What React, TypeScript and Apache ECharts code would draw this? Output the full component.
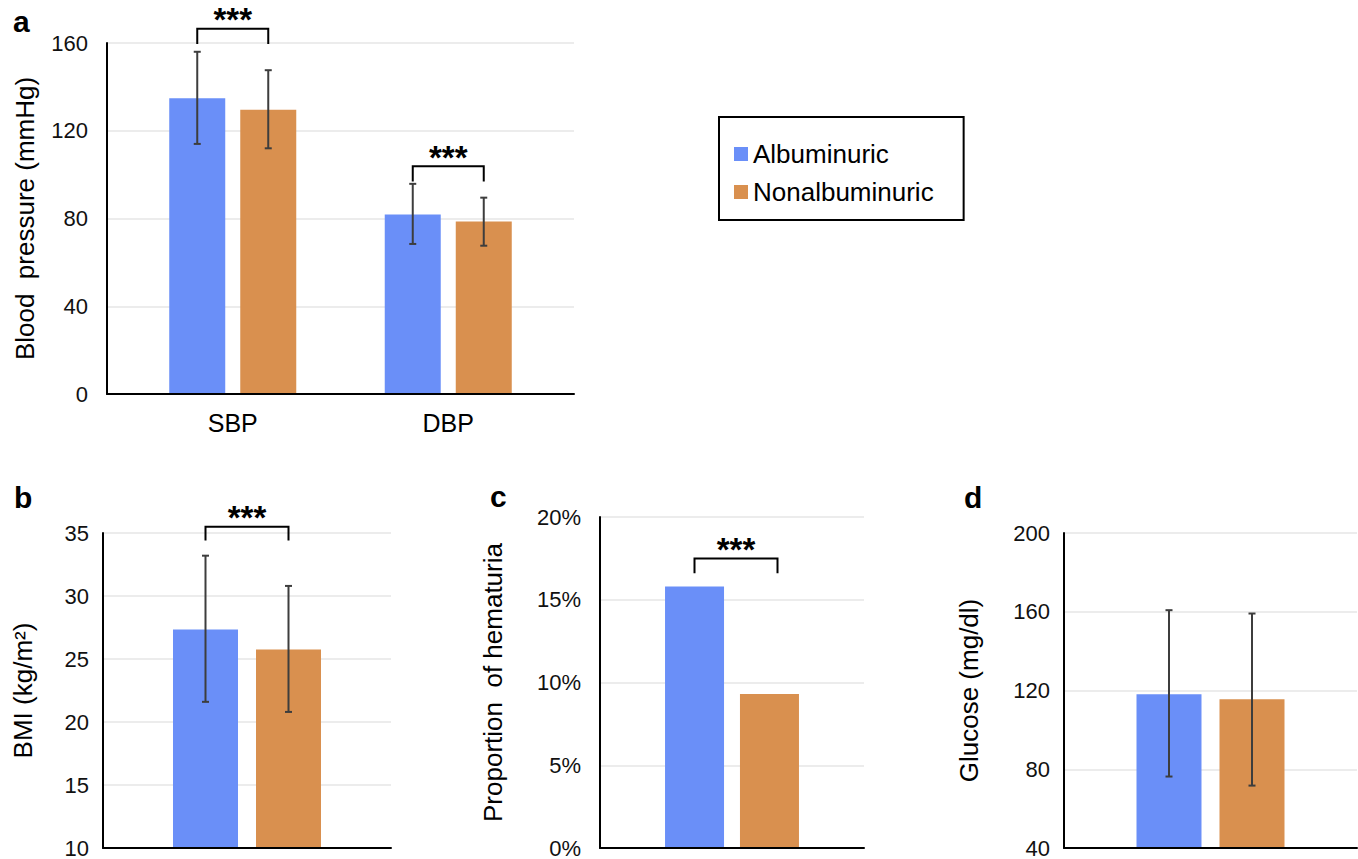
import React, { useEffect, useRef } from "react";
import * as echarts from "echarts";

// ---------- data ----------
const GROUPS = ["Albuminuric", "Nonalbuminuric"];

// panel a: blood pressure
const BP_CATEGORIES = ["SBP", "DBP"];
const BP_ALB = [134.8, 81.8];
const BP_NON = [129.6, 78.6];
const BP_ALB_ERR = [[114.0, 156.0], [68.4, 95.8]];
const BP_NON_ERR = [[112.0, 147.6], [67.6, 89.5]];
const BP_BRACKETS = [[0, 166.5, 159.6], [1, 103.8, 96.9]]; // [category, top, end]

// panel b: BMI
const BMI_ALB = [27.35];
const BMI_NON = [25.75];
const BMI_ALB_ERR = [[21.6, 33.2]];
const BMI_NON_ERR = [[20.8, 30.8]];
const BMI_BRACKETS = [[0, 35.5, 34.4]];

// panel c: hematuria (%)
const HEM_ALB = [15.8];
const HEM_NON = [9.3];
const HEM_BRACKETS = [[0, 17.5, 16.6]];

// panel d: glucose
const GLU_ALB = [118.1];
const GLU_NON = [115.5];
const GLU_ALB_ERR = [[76.3, 160.8]];
const GLU_NON_ERR = [[71.7, 159.1]];

// axis ranges
const BP_AXIS = { min: 0, max: 160, interval: 40 };
const BMI_AXIS = { min: 10, max: 35, interval: 5 };
const HEM_AXIS = { min: 0, max: 20, interval: 5 };
const GLU_AXIS = { min: 40, max: 200, interval: 40 };

// ---------- styles ----------
const BLUE = "#6A8FF8";
const ORANGE = "#D9904F";
const ERR = "#3d3d3d";
const GRID_LINE = "#e6e6e6";
const FONT = '"Liberation Sans", Arial, Helvetica, sans-serif';

function errorSeries(axis: number, data: number[][], offset: number) {
  return {
    type: "custom",
    xAxisIndex: axis,
    yAxisIndex: axis,
    clip: false,
    silent: true,
    z: 10,
    data: data.map((d, i) => [i, d[0], d[1]]),
    encode: { x: 0, y: [1, 2] },
    renderItem: (_p: any, api: any) => {
      const lo = api.coord([api.value(0), api.value(1)]);
      const hi = api.coord([api.value(0), api.value(2)]);
      const x = lo[0] + offset;
      const c = 3.5;
      const st = { stroke: ERR, lineWidth: 2 };
      return {
        type: "group",
        children: [
          { type: "line", shape: { x1: x, y1: hi[1], x2: x, y2: lo[1] }, style: st },
          { type: "line", shape: { x1: x - c, y1: hi[1], x2: x + c, y2: hi[1] }, style: st },
          { type: "line", shape: { x1: x - c, y1: lo[1], x2: x + c, y2: lo[1] }, style: st },
        ],
      };
    },
  };
}

function bracketSeries(axis: number, data: number[][], lo: number, ro: number) {
  return {
    type: "custom",
    xAxisIndex: axis,
    yAxisIndex: axis,
    clip: false,
    silent: true,
    z: 10,
    data,
    encode: { x: 0, y: [1, 2] },
    renderItem: (_p: any, api: any) => {
      const top = api.coord([api.value(0), api.value(1)]);
      const end = api.coord([api.value(0), api.value(2)]);
      const cx = top[0];
      return {
        type: "group",
        children: [
          {
            type: "polyline",
            shape: {
              points: [
                [cx - lo, end[1]],
                [cx - lo, top[1]],
                [cx + ro, top[1]],
                [cx + ro, end[1]],
              ],
            },
            style: { stroke: "#000", lineWidth: 2, fill: "none" },
          },
          {
            type: "text",
            style: {
              text: "***",
              x: cx + (ro - lo) / 2,
              y: top[1] - 9,
              align: "center",
              verticalAlign: "middle",
              fontSize: 33,
              fontWeight: "bold",
              fontFamily: FONT,
              fill: "#000",
            },
          },
        ],
      };
    },
  };
}

function valueAxis(grid: number, range: any, name: string, nameGap: number, margin: number, fmt?: string) {
  return {
    type: "value",
    gridIndex: grid,
    min: range.min,
    max: range.max,
    interval: range.interval,
    name,
    nameLocation: "middle",
    nameGap,
    nameRotate: 90,
    nameTextStyle: { fontSize: 26, color: "#000", fontFamily: FONT },
    axisLine: { show: true, lineStyle: { color: "#000", width: 2 } },
    axisTick: { show: false },
    axisLabel: { fontSize: 22, color: "#111", margin, fontFamily: FONT, formatter: fmt || "{value}" },
    splitLine: { show: true, lineStyle: { color: GRID_LINE, width: 1.5 } },
  };
}

function hiddenValueAxis(grid: number, range: any) {
  return {
    type: "value",
    gridIndex: grid,
    min: range.min,
    max: range.max,
    interval: range.interval,
    show: false,
    splitLine: { show: false },
  };
}

function baseXAxis(grid: number, cats: string[]) {
  return {
    type: "category",
    gridIndex: grid,
    data: cats,
    axisLine: { show: true, lineStyle: { color: "#000", width: 2 } },
    axisTick: { show: false },
    axisLabel: { show: false },
    z: 6,
  };
}

function bar(axis: number, name: string, color: string, data: number[], width: number, gap: string) {
  return {
    type: "bar",
    name,
    xAxisIndex: axis,
    yAxisIndex: axis,
    data,
    barWidth: width,
    barGap: gap,
    itemStyle: { color },
    silent: true,
  };
}

export default function App() {
  const ref = useRef<HTMLDivElement>(null);

  useEffect(() => {
    if (!ref.current) return;
    const chart = echarts.init(ref.current, null, { renderer: "svg" });

    const option: any = {
      animation: false,
      backgroundColor: "#fff",
      textStyle: { fontFamily: FONT },
      grid: [
        { left: 107, top: 43, width: 467, height: 351 }, // a axes
        { left: 125, top: 43, width: 431, height: 351 }, // a bars
        { left: 103, top: 533, width: 288, height: 316 }, // b
        { left: 600, top: 517, width: 264, height: 331 }, // c
        { left: 1064, top: 533, width: 293, height: 315 }, // d
      ],
      xAxis: [
        baseXAxis(0, BP_CATEGORIES),
        {
          type: "category",
          gridIndex: 1,
          data: BP_CATEGORIES,
          axisLine: { show: false },
          axisTick: { show: false },
          axisLabel: { fontSize: 25, color: "#000", margin: 16, fontFamily: FONT },
        },
        baseXAxis(2, [""]),
        baseXAxis(3, [""]),
        baseXAxis(4, [""]),
      ],
      yAxis: [
        valueAxis(0, BP_AXIS, "Blood  pressure (mmHg)", 69, 19),
        hiddenValueAxis(1, BP_AXIS),
        valueAxis(2, BMI_AXIS, "BMI (kg/m²)", 67, 14),
        valueAxis(3, HEM_AXIS, "Proportion  of hematuria", 94, 19, "{value}%"),
        valueAxis(4, GLU_AXIS, "Glucose (mg/dl)", 82, 14),
      ],
      legend: {
        data: GROUPS.map((g) => ({ name: g, icon: "rect" })),
        orient: "vertical",
        left: 719,
        top: 117,
        selectedMode: false,
        borderColor: "#000",
        borderWidth: 2,
        padding: [24, 30, 15, 15],
        itemWidth: 14,
        itemHeight: 14,
        itemGap: 12,
        textStyle: { fontSize: 26, color: "#000", fontFamily: FONT, lineHeight: 26 },
      },
      graphic: [
        { type: "text", left: 13, top: 6, style: { text: "a", fontSize: 30, fontWeight: "bold", fill: "#000", fontFamily: FONT } },
        { type: "text", left: 14, top: 482, style: { text: "b", fontSize: 30, fontWeight: "bold", fill: "#000", fontFamily: FONT } },
        { type: "text", left: 490, top: 481, style: { text: "c", fontSize: 30, fontWeight: "bold", fill: "#000", fontFamily: FONT } },
        { type: "text", left: 964, top: 482, style: { text: "d", fontSize: 30, fontWeight: "bold", fill: "#000", fontFamily: FONT } },
      ],
      series: [
        // a
        bar(1, GROUPS[0], BLUE, BP_ALB, 56, "26.8%"),
        bar(1, GROUPS[1], ORANGE, BP_NON, 56, "26.8%"),
        errorSeries(1, BP_ALB_ERR, -35.5),
        errorSeries(1, BP_NON_ERR, 35.5),
        bracketSeries(1, BP_BRACKETS, 35.5, 35.5),
        // b
        bar(2, GROUPS[0], BLUE, BMI_ALB, 65, "27.7%"),
        bar(2, GROUPS[1], ORANGE, BMI_NON, 65, "27.7%"),
        errorSeries(2, BMI_ALB_ERR, -41.5),
        errorSeries(2, BMI_NON_ERR, 41.5),
        bracketSeries(2, BMI_BRACKETS, 41.5, 41.5),
        // c
        bar(3, GROUPS[0], BLUE, HEM_ALB, 59, "27%"),
        bar(3, GROUPS[1], ORANGE, HEM_NON, 59, "27%"),
        bracketSeries(3, HEM_BRACKETS, 37.5, 45.5),
        // d
        bar(4, GROUPS[0], BLUE, GLU_ALB, 65, "27.7%"),
        bar(4, GROUPS[1], ORANGE, GLU_NON, 65, "27.7%"),
        errorSeries(4, GLU_ALB_ERR, -41.5),
        errorSeries(4, GLU_NON_ERR, 41.5),
      ],
    };

    chart.setOption(option);
    return () => chart.dispose();
  }, []);

  return (
    <div
      ref={ref}
      style={{ position: "fixed", left: 0, top: 0, width: 1358, height: 859, background: "#fff" }}
    />
  );
}
